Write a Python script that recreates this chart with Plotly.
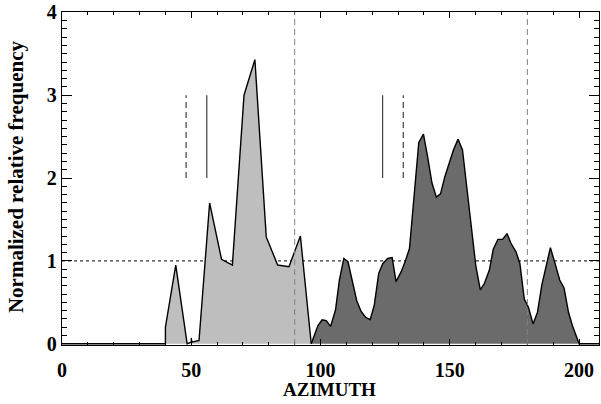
import plotly.graph_objects as go

# ---- data ----
light_x = [0, 40, 40, 44.0, 48.4, 50.0, 50.0, 50.2, 53.0, 57.1, 61.7, 65.9, 70.4, 74.6, 79.0, 83.4, 87.8, 92.2, 96.4]
light_y = [0, 0, 0.20, 0.95, 0.0, 0.02, 0.07, 0.02, 0.04, 1.70, 1.02, 0.95, 3.00, 3.43, 1.29, 0.95, 0.93, 1.30, 0.0]

dark_x = [96.4, 99.0, 100.6, 102.2, 103.9, 105.8, 107.3, 109.0, 110.6, 112.2, 114.0, 115.7, 117.4,
          119.2, 120.8, 122.5, 124.1, 126.0, 127.7, 129.2, 131.2, 132.8, 134.4, 138.0, 139.8, 141.4,
          143.1, 144.8, 146.4, 148.1, 149.8, 151.4, 153.2, 154.9, 156.6, 158.4, 160.1, 161.8, 163.4,
          165.3, 166.8, 168.6, 170.4, 172.1, 173.7, 175.6, 177.1, 178.8, 180.4, 182.2, 183.9, 185.6,
          187.4, 188.9, 190.7, 192.5, 194.2, 195.9, 197.4, 200.0, 210.0]
dark_y = [0.0, 0.22, 0.29, 0.28, 0.21, 0.41, 0.77, 1.03, 0.99, 0.75, 0.52, 0.39, 0.32,
          0.29, 0.47, 0.85, 0.97, 1.03, 1.04, 0.75, 0.87, 1.00, 1.15, 2.43, 2.53, 2.26,
          1.94, 1.77, 1.81, 2.02, 2.20, 2.34, 2.47, 2.34, 1.88, 1.37, 0.93, 0.65, 0.73,
          0.89, 1.14, 1.26, 1.26, 1.33, 1.21, 1.11, 0.97, 0.54, 0.44, 0.24, 0.38, 0.71,
          0.95, 1.16, 0.97, 0.77, 0.67, 0.38, 0.22, 0.0, 0.0]

quadrant_lines = [90, 180]      # long gray dashed verticals
marker_solid = [56, 124]        # short solid verticals
marker_dashed = [48, 132]       # short dashed verticals
marker_span = [2, 3]            # y extent of the short verticals
level = 1                       # dotted horizontal reference

x_major, x_minor = 50, 10
y_major, y_minor = 1, 0.1

FONT = "Liberation Serif"

fig = go.Figure()
fig.add_trace(go.Scatter(x=light_x, y=light_y, mode="lines", fill="tozeroy",
                         fillcolor="#bebebe", line=dict(color="black", width=1.4),
                         hoverinfo="skip"))
fig.add_trace(go.Scatter(x=dark_x, y=dark_y, mode="lines", fill="tozeroy",
                         fillcolor="#6b6b6b", line=dict(color="black", width=1.4),
                         hoverinfo="skip"))

# dotted horizontal level (below the fills)
fig.add_shape(type="line", xref="paper", yref="y", x0=0, x1=1, y0=level, y1=level,
              line=dict(color="black", width=1, dash="dot"), layer="below")
for xv in quadrant_lines:
    fig.add_shape(type="line", xref="x", yref="paper", x0=xv, x1=xv, y0=0, y1=1,
                  line=dict(color="#808080", width=1, dash="6px,4px"), layer="above")
for xv in marker_solid:
    fig.add_shape(type="line", xref="x", yref="y", x0=xv, x1=xv,
                  y0=marker_span[0], y1=marker_span[1],
                  line=dict(color="#404040", width=1.2), layer="above")
for xv in marker_dashed:
    fig.add_shape(type="line", xref="x", yref="y", x0=xv, x1=xv,
                  y0=marker_span[0], y1=marker_span[1],
                  line=dict(color="#404040", width=1.2, dash="6px,4px"), layer="above")

fig.update_layout(
    width=601, height=404,
    margin=dict(l=62, r=1, t=8, b=59),
    plot_bgcolor="white", paper_bgcolor="white",
    showlegend=False,
    font=dict(family=FONT, size=19, color="black", weight="bold"),
    xaxis=dict(range=[0, 207.7], tick0=0, dtick=x_major,
               ticks="inside", ticklen=6, tickwidth=1.2, tickcolor="black",
               minor=dict(dtick=x_minor, ticks="inside", ticklen=3, tickwidth=1, tickcolor="black"),
               showline=True, linecolor="black", linewidth=1.3, mirror="allticks",
               showgrid=False, zeroline=False, ticklabelstandoff=7,
               ticklabeloverflow="allow",
               tickfont=dict(family=FONT, size=20, weight="bold")),
    yaxis=dict(range=[-0.015, 4.005], tick0=0, dtick=y_major,
               ticks="inside", ticklen=10, tickwidth=1.2, tickcolor="black",
               minor=dict(dtick=y_minor, ticks="inside", ticklen=5, tickwidth=1, tickcolor="black"),
               showline=True, linecolor="black", linewidth=1.3, mirror="allticks",
               showgrid=False, zeroline=False, ticklabeloverflow="allow",
               tickfont=dict(family=FONT, size=20, weight="bold")),
    annotations=[
        dict(text="AZIMUTH", xref="paper", yref="paper", x=(330 - 62) / 538, y=-(390 - 345) / 337,
             showarrow=False, xanchor="center", yanchor="middle",
             font=dict(family=FONT, size=19, weight="bold")),
        dict(text="Normalized relative frequency", xref="paper", yref="paper",
             x=(16 - 62) / 538, y=(345 - 175) / 337, textangle=-90,
             showarrow=False, xanchor="center", yanchor="middle",
             font=dict(family=FONT, size=21, weight="bold")),
    ],
)

fig.write_html("out.html")
